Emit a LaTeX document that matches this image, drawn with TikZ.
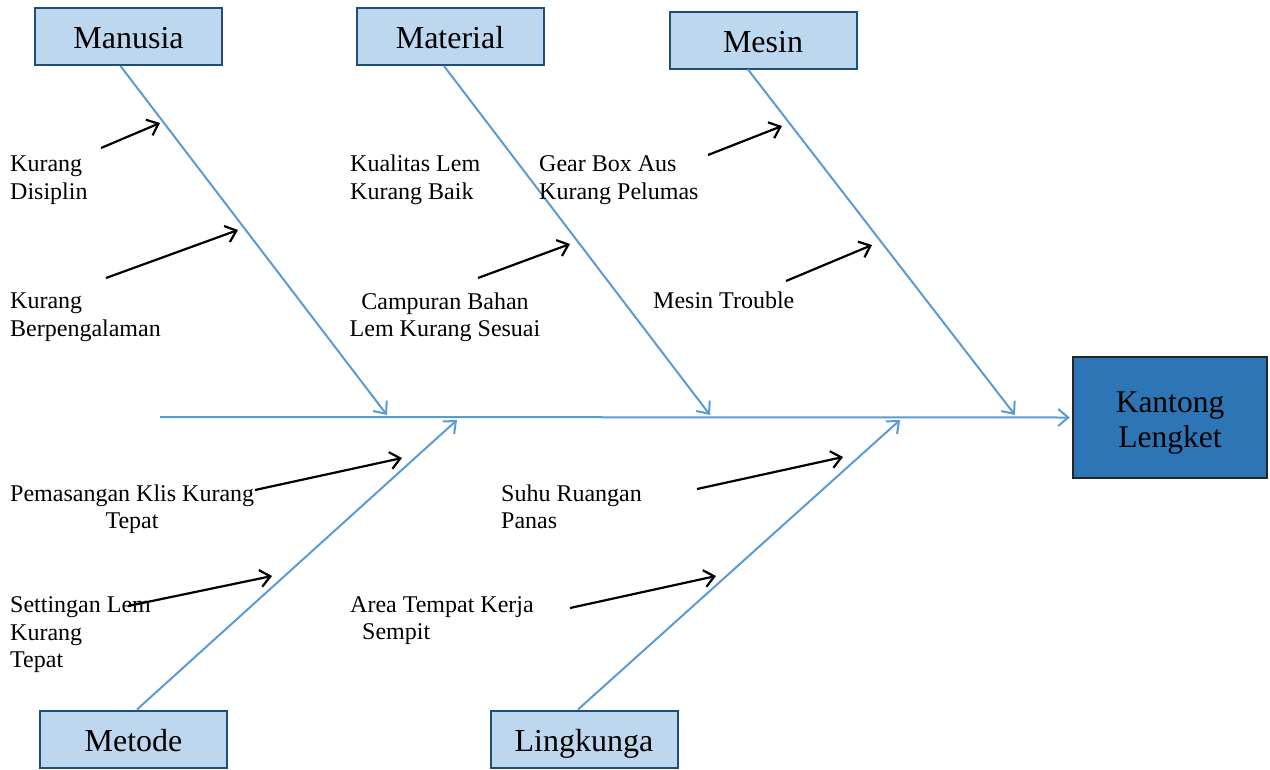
\documentclass[tikz,border=0pt]{standalone}
\usepackage{fontspec}
\setmainfont{Liberation Serif}
\usetikzlibrary{arrows.meta}
\definecolor{bonecol}{HTML}{5B9BD5}
\definecolor{catfill}{HTML}{BDD7EE}
\definecolor{catline}{HTML}{1F4E79}
\definecolor{effill}{HTML}{2E75B6}
\tikzset{
  catbox/.style={draw=catline, line width=2pt, fill=catfill, minimum width=187pt,
    minimum height=57pt, inner sep=0pt, text height=25pt, text depth=1pt,
    font=\fontsize{32}{36}\selectfont},
  effbox/.style={draw=black!85, line width=2.5pt, fill=effill, minimum width=194pt,
    minimum height=121pt, inner sep=0pt},
  efftext/.style={inner sep=0pt, align=center, font=\fontsize{31.5}{35}\selectfont},
  bone/.style={draw=bonecol, line width=2pt, -{Straight Barb[length=10pt,width=17pt,line width=2pt]}},
  cause/.style={draw=black, line width=2.2pt, -{Straight Barb[length=10pt,width=17pt,line width=2.2pt]}},
  lbl/.style={inner sep=0pt, font=\fontsize{24}{28}\selectfont},
}
\begin{document}
\begin{tikzpicture}[x=1pt,y=-1pt]
\useasboundingbox (0,0) rectangle (1270,769);

% category boxes
\node[catbox] (manusia)  at (128.5,36.5) {Manusia};
\node[catbox] (material) at (450,36.5) {Material};
\node[catbox] (mesin)    at (763,40) {Mesin};
\node[catbox] (metode)   at (133.5,739) {Metode};
\node[catbox] (lingk)    at (584,739) {Lingkunga};

% effect
\node[effbox] (effect) at (1170,417.5) {};
\node[efftext] (efflbl) at ([yshift=-5.5pt]effect.center) {Kantong\\Lengket};

% spine
\coordinate (tail) at (160,417);
\draw[bone] (tail) -- ([xshift=-2pt]effect.west);

% bone tips on the spine
\coordinate (jManusia)  at (387,415);
\coordinate (jMaterial) at (710,415);
\coordinate (jMesin)    at (1015,415);
\coordinate (jMetode)   at (457,420);
\coordinate (jLingk)    at (900,420);

\draw[bone] ([xshift=-8pt]manusia.south) -- (jManusia);
\draw[bone] ([xshift=-6pt]material.south) -- (jMaterial);
\draw[bone] ([xshift=-15pt]mesin.south) -- (jMesin);
\draw[bone] ([xshift=3.5pt]metode.north) -- (jMetode);
\draw[bone] ([xshift=-6pt]lingk.north) -- (jLingk);

% cause labels
\node[lbl, anchor=base west] (kd1) at (10,171) {Kurang};
\node[lbl, anchor=base west] (kd2) at (10,199) {Disiplin};
\node[lbl, anchor=base west] (kb1) at (10,308) {Kurang};
\node[lbl, anchor=base west] (kb2) at (10,336) {Berpengalaman};

\node[lbl, anchor=base west] (kl1) at (350,171) {Kualitas Lem};
\node[lbl, anchor=base west] (kl2) at (350,199) {Kurang Baik};
\node[lbl, anchor=base] (cb1) at (445,309) {Campuran Bahan};
\node[lbl, anchor=base] (cb2) at (445,336) {Lem Kurang Sesuai};

\node[lbl, anchor=base west] (gb1) at (539,171) {Gear Box Aus};
\node[lbl, anchor=base west] (gb2) at (539,199) {Kurang Pelumas};
\node[lbl, anchor=base west] (mt)  at (653,308) {Mesin Trouble};

\node[lbl, anchor=base west] (pk1) at (10,501) {Pemasangan Klis Kurang};
\node[lbl, anchor=base] (pk2) at (132,528) {Tepat};
\node[lbl, anchor=base west] (sl1) at (10,612) {Settingan Lem};
\node[lbl, anchor=base west] (sl2) at (10,640) {Kurang};
\node[lbl, anchor=base west] (sl3) at (10,667) {Tepat};

\node[lbl, anchor=base west] (sr1) at (501,501) {Suhu Ruangan};
\node[lbl, anchor=base west] (sr2) at (501,528) {Panas};
\node[lbl, anchor=base west] (at1) at (350,612) {Area Tempat Kerja};
\node[lbl, anchor=base west] (at2) at (362,639) {Sempit};

% cause arrows
\coordinate (aKD0) at (101,148);  \coordinate (aKD1) at (160,123);
\coordinate (aKB0) at (106,278);  \coordinate (aKB1) at (238,230);
\coordinate (aCB0) at (478,278);  \coordinate (aCB1) at (570,244);
\coordinate (aGB0) at (708,155);  \coordinate (aGB1) at (782,126);
\coordinate (aMT0) at (786,281);  \coordinate (aMT1) at (872,245);
\coordinate (aPK0) at (255,490);  \coordinate (aPK1) at (402,458);
\coordinate (aSL0) at (128,606);  \coordinate (aSL1) at (272,576);
\coordinate (aSR0) at (697,489);  \coordinate (aSR1) at (843,457);
\coordinate (aAT0) at (570,608);  \coordinate (aAT1) at (716,576);

\draw[cause] (aKD0) -- (aKD1);
\draw[cause] (aKB0) -- (aKB1);
\draw[cause] (aCB0) -- (aCB1);
\draw[cause] (aGB0) -- (aGB1);
\draw[cause] (aMT0) -- (aMT1);
\draw[cause] (aPK0) -- (aPK1);
\draw[cause] (aSL0) -- (aSL1);
\draw[cause] (aSR0) -- (aSR1);
\draw[cause] (aAT0) -- (aAT1);
\end{tikzpicture}
\end{document}
